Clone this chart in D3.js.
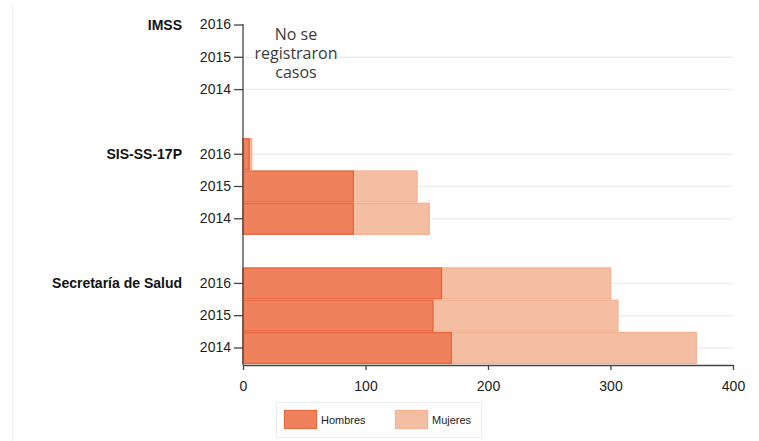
<!DOCTYPE html>
<html>
<head>
<meta charset="utf-8">
<script src="https://cdn.jsdelivr.net/npm/d3@7"></script>
<style>
  body { margin: 0; background: #fff; }
  svg { display: block; font-family: "Liberation Sans", Arial, sans-serif; }
</style>
</head>
<body>
<svg width="759" height="441"></svg>
<script>
var groups = ["IMSS", "SIS-SS-17P", "Secretaría de Salud"],
    years = ["2016", "2015", "2014"],
    hombres = [[0, 0, 0], [5, 90, 90], [162, 155, 170]],
    mujeres = [[0, 0, 0], [2, 52, 62], [138, 151, 200]],
    xTicks = [0, 100, 200, 300, 400],
    seriesNames = ["Hombres", "Mujeres"],
    colors = ["#ef825c", "#f4bea2"],
    strokes = ["#e8683f", "#f5b394"];

var svg = d3.select("svg");

// slots: 3 years per group, one empty slot between groups
var slots = [];
groups.forEach(function(g, gi) {
  if (gi > 0) slots.push("gap" + gi);
  years.forEach(function(yr) { slots.push(g + "|" + yr); });
});

var rows = [];
groups.forEach(function(g, gi) {
  years.forEach(function(yr, yi) {
    rows.push({key: g + "|" + yr, h: hombres[gi][yi], m: mujeres[gi][yi]});
  });
});

var x = d3.scaleLinear().domain([0, 400]).range([243, 733]);
var y = d3.scaleBand().domain(slots).range([8.85, 364.15]).padding(0);
var yc = function(k) { return y(k) + y.bandwidth() / 2; };
var x0 = 243, yBottom = 365;

// faint frame line on the left
svg.append("line")
    .attr("x1", 12.5).attr("x2", 12.5).attr("y1", 5).attr("y2", 441)
    .attr("stroke", "#f0f0f0").attr("stroke-width", 1);

// grid lines
svg.append("g").selectAll("line")
    .data(rows.slice(1))
  .enter().append("line")
    .attr("x1", x0).attr("x2", x(400))
    .attr("y1", function(d) { return yc(d.key); })
    .attr("y2", function(d) { return yc(d.key); })
    .attr("stroke", "#e9eff1").attr("stroke-width", 1.5);

// bars
var bar = svg.append("g").selectAll("g")
    .data(rows)
  .enter().append("g");

bar.filter(function(d) { return d.m > 0; }).append("rect")
    .attr("x", function(d) { return x(d.h); })
    .attr("y", function(d) { return y(d.key) + 0.75; })
    .attr("width", function(d) { return x(d.h + d.m) - x(d.h); })
    .attr("height", y.bandwidth() - 1.5)
    .attr("fill", colors[1]).attr("stroke", strokes[1]).attr("stroke-width", 1.5);

bar.filter(function(d) { return d.h > 0; }).append("rect")
    .attr("x", x(0))
    .attr("y", function(d) { return y(d.key) + 0.75; })
    .attr("width", function(d) { return x(d.h) - x(0); })
    .attr("height", y.bandwidth() - 1.5)
    .attr("fill", colors[0]).attr("stroke", strokes[0]).attr("stroke-width", 1.5);

// y axis
var yAxis = svg.append("g")
    .attr("transform", "translate(" + x0 + ",0)")
    .call(d3.axisLeft(y)
      .tickValues(rows.map(function(d) { return d.key; }))
      .tickFormat(function(k) { return k.split("|")[1]; })
      .tickSize(9).tickPadding(3).tickSizeOuter(0));
yAxis.select(".domain").attr("d", "M0," + (yc(slots[0]) - 1) + "V" + yBottom);
yAxis.selectAll("line, path").attr("stroke", "#444").attr("stroke-width", 1.3);
yAxis.selectAll("text").attr("font-size", 14).attr("fill", "#222")
    .attr("font-family", "Liberation Sans, Arial, sans-serif");

// group labels
svg.append("g").selectAll("text")
    .data(groups)
  .enter().append("text")
    .attr("x", 182)
    .attr("y", function(g) { return yc(g + "|" + years[0]); })
    .attr("dy", "0.35em")
    .attr("text-anchor", "end")
    .attr("font-size", 14).attr("font-weight", "bold").attr("fill", "#111")
    .text(function(g) { return g; });

// x axis
var xAxis = svg.append("g")
    .attr("transform", "translate(0," + yBottom + ")")
    .call(d3.axisBottom(x).tickValues(xTicks).tickSize(5).tickPadding(11).tickSizeOuter(0));
xAxis.selectAll("line, path").attr("stroke", "#444").attr("stroke-width", 1.3);
xAxis.selectAll("text").attr("font-size", 14).attr("fill", "#222")
    .attr("font-family", "Liberation Sans, Arial, sans-serif");

// note for IMSS
svg.append("text")
    .attr("x", 296).attr("y", 40)
    .attr("text-anchor", "middle")
    .attr("font-family", "Open Sans, sans-serif").attr("font-size", 16).attr("fill", "#3c3c3c")
    .selectAll("tspan")
    .data(["No se", "registraron", "casos"])
  .enter().append("tspan")
    .attr("x", 296)
    .attr("dy", function(d, i) { return i ? 19 : 0; })
    .text(function(d) { return d; });

// legend
var legend = svg.append("g");
legend.append("rect")
    .attr("x", 276.5).attr("y", 402.5).attr("width", 205).attr("height", 35)
    .attr("fill", "#fff").attr("stroke", "#e8eef0").attr("stroke-width", 1);

var item = legend.selectAll("g")
    .data(seriesNames)
  .enter().append("g")
    .attr("transform", function(d, i) { return "translate(" + (284 + i * 111) + ",410)"; });
item.append("rect")
    .attr("x", 0.5).attr("y", 0.5).attr("width", 32).attr("height", 18)
    .attr("fill", function(d, i) { return colors[i]; })
    .attr("stroke", function(d, i) { return strokes[i]; }).attr("stroke-width", 1.2);
item.append("text")
    .attr("x", 37).attr("y", 14)
    .attr("font-size", 11).attr("fill", "#222")
    .text(function(d) { return d; });
</script>
</body>
</html>
